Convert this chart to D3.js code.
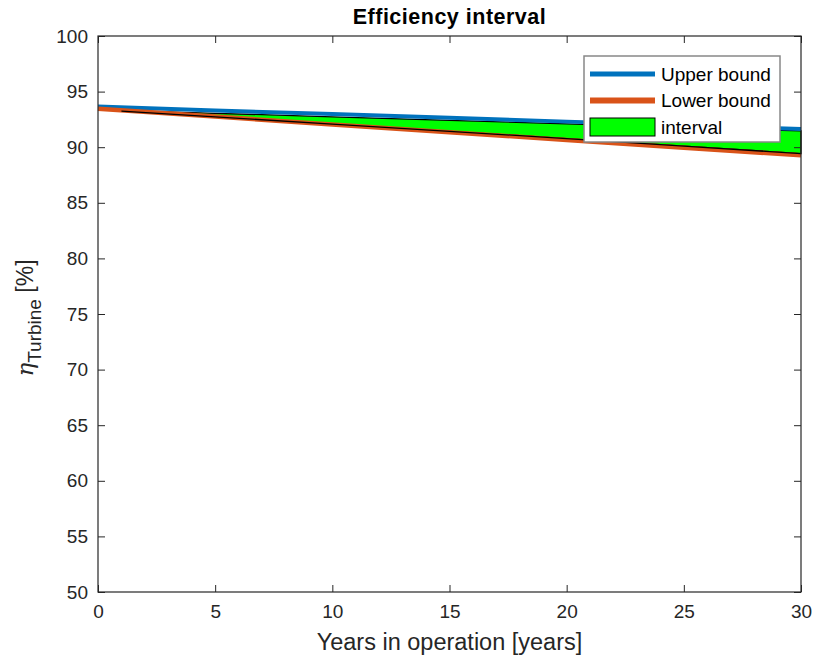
<!DOCTYPE html>
<html>
<head>
<meta charset="utf-8">
<script src="https://cdn.jsdelivr.net/npm/d3@7"></script>
<style>
  body { margin: 0; background: #fff; }
  svg { font-family: "Liberation Sans", Arial, sans-serif; }
</style>
</head>
<body>
<svg id="chart" width="815" height="662"></svg>
<script>
// bounds (linear over the whole period)
var years = [0, 5, 10, 15, 20, 25, 30];
var upperBound = [93.65, 93.3, 92.98, 92.65, 92.3, 91.97, 91.64];
var lowerBound = [93.45, 92.75, 92.05, 91.35, 90.65, 89.95, 89.27];

// filled interval (starts at year 1)
var intervalYears = [1, 5, 10, 15, 20, 25, 30];
var intervalTop = [93.3, 93.05, 92.73, 92.42, 92.1, 91.78, 91.46];
var intervalBottom = [93.25, 92.73, 92.08, 91.43, 90.77, 90.1, 89.42];

var xTicks = [0, 5, 10, 15, 20, 25, 30];
var yTicks = [50, 55, 60, 65, 70, 75, 80, 85, 90, 95, 100];

var svg = d3.select("#chart"),
    margin = {top: 36, right: 14, bottom: 70, left: 98},
    width = +svg.attr("width") - margin.left - margin.right,
    height = +svg.attr("height") - margin.top - margin.bottom;

var x = d3.scaleLinear().domain([0, 30]).range([0, width]);
var y = d3.scaleLinear().domain([50, 100]).range([height, 0]);

var g = svg.append("g")
    .attr("transform", "translate(" + margin.left + "," + margin.top + ")");

var axisColor = "#262626";

// interval polygon
var band = intervalYears.map(function(d, i) {
    return {x: d, y0: intervalBottom[i], y1: intervalTop[i]};
});
g.append("path")
    .datum(band)
    .attr("fill", "#00ff00")
    .attr("stroke", "#000")
    .attr("stroke-width", 1.3)
    .attr("d", d3.area()
        .x(function(d) { return x(d.x); })
        .y0(function(d) { return y(d.y0); })
        .y1(function(d) { return y(d.y1); }));

var line = d3.line()
    .x(function(d) { return x(d[0]); })
    .y(function(d) { return y(d[1]); });

g.append("path")
    .datum(years.map(function(d, i) { return [d, upperBound[i]]; }))
    .attr("fill", "none")
    .attr("stroke", "#0072bd")
    .attr("stroke-width", 4)
    .attr("d", line);

g.append("path")
    .datum(years.map(function(d, i) { return [d, lowerBound[i]]; }))
    .attr("fill", "none")
    .attr("stroke", "#d95319")
    .attr("stroke-width", 4.5)
    .attr("d", line);

// redraw interval outline on top of lower bound edge
g.append("path")
    .datum(band)
    .attr("fill", "none")
    .attr("stroke", "#000")
    .attr("stroke-width", 1.3)
    .attr("d", d3.line()
        .x(function(d) { return x(d.x); })
        .y(function(d) { return y(d.y0); }));

// axes (ticks inside, mirrored)
function styleAxis(sel) {
    sel.select(".domain").remove();
    sel.selectAll(".tick line").attr("stroke", axisColor);
    sel.selectAll(".tick text")
        .attr("fill", axisColor)
        .attr("font-size", "19px");
}

g.append("g")
    .attr("transform", "translate(0," + height + ")")
    .call(d3.axisBottom(x).tickValues(xTicks).tickSize(-7).tickPadding(13))
    .call(styleAxis);

g.append("g")
    .call(d3.axisTop(x).tickValues(xTicks).tickSize(-7).tickFormat(""))
    .call(styleAxis);

g.append("g")
    .call(d3.axisLeft(y).tickValues(yTicks).tickSize(-7).tickPadding(10))
    .call(styleAxis);

g.append("g")
    .attr("transform", "translate(" + width + ",0)")
    .call(d3.axisRight(y).tickValues(yTicks).tickSize(-7).tickFormat(""))
    .call(styleAxis);

g.append("rect")
    .attr("width", width)
    .attr("height", height)
    .attr("fill", "none")
    .attr("stroke", axisColor)
    .attr("stroke-width", 1.2);

// title
svg.append("text")
    .attr("x", margin.left + width / 2)
    .attr("y", 24)
    .attr("text-anchor", "middle")
    .attr("font-size", "21.5px")
    .attr("letter-spacing", "0.5px")
    .attr("font-weight", "bold")
    .attr("fill", "#000")
    .text("Efficiency interval");

// x label
svg.append("text")
    .attr("x", margin.left + width / 2)
    .attr("y", 650)
    .attr("text-anchor", "middle")
    .attr("font-size", "23.5px")
    .attr("fill", axisColor)
    .text("Years in operation [years]");

// y label
var yl = svg.append("text")
    .attr("transform", "translate(33,318) rotate(-90)")
    .attr("text-anchor", "middle")
    .attr("font-size", "23px")
    .attr("fill", axisColor);
yl.append("tspan")
    .attr("font-family", "'DejaVu Serif', serif")
    .attr("font-style", "italic")
    .text("η");
yl.append("tspan")
    .attr("font-size", "19px")
    .attr("dy", 8)
    .text("Turbine");
yl.append("tspan")
    .attr("dy", -8)
    .text(" [%]");

// legend
var legendItems = ["Upper bound", "Lower bound", "interval"];
var legendColors = ["#0072bd", "#d95319", "#00ff00"];

var lg = svg.append("g").attr("transform", "translate(584,56)");
lg.append("rect")
    .attr("width", 196)
    .attr("height", 86)
    .attr("fill", "#fff")
    .attr("stroke", "#888")
    .attr("stroke-width", 1.5);

legendItems.forEach(function(name, i) {
    var cy = 18 + i * 26.5;
    if (i < 2) {
        lg.append("line")
            .attr("x1", 6).attr("x2", 71)
            .attr("y1", cy).attr("y2", cy)
            .attr("stroke", legendColors[i])
            .attr("stroke-width", i === 0 ? 5 : 6);
    } else {
        lg.append("rect")
            .attr("x", 6).attr("y", cy - 9)
            .attr("width", 65).attr("height", 18)
            .attr("fill", legendColors[i])
            .attr("stroke", "#000")
            .attr("stroke-width", 1);
    }
    lg.append("text")
        .attr("x", 77)
        .attr("y", cy + 6.5)
        .attr("font-size", "19px")
        .attr("fill", "#000")
        .text(name);
});
</script>
</body>
</html>
